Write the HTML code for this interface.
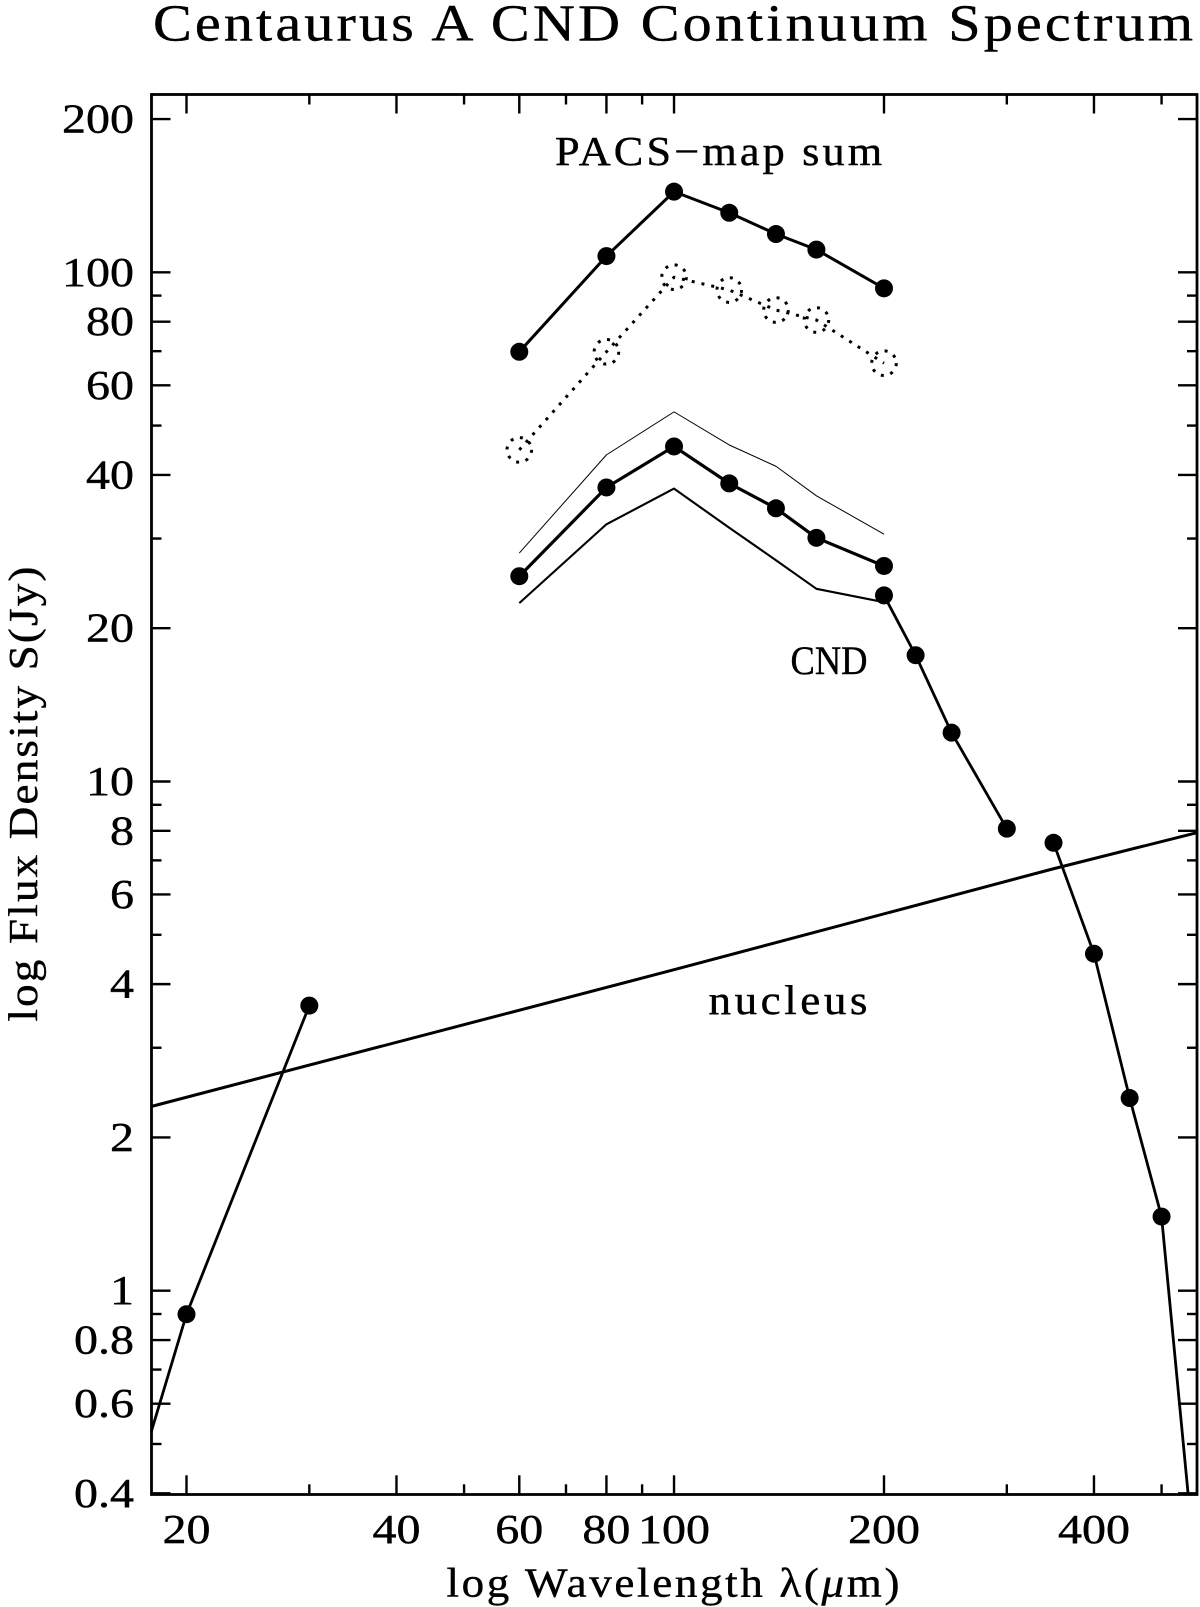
<!DOCTYPE html>
<html lang="en">
<head>
<meta charset="utf-8">
<title>Centaurus A CND Continuum Spectrum</title>
<style>
html,body{margin:0;padding:0;background:#fff;}
svg{display:block;}
text{font-family:"Liberation Serif","DejaVu Serif",serif;fill:#000;stroke:#000;stroke-width:.4px;}
</style>
</head>
<body>
<svg id="chart" xmlns="http://www.w3.org/2000/svg" width="1200" height="1607" viewBox="0 0 1200 1607">
  <rect x="0" y="0" width="1200" height="1607" fill="#fff"/>
  <text transform="translate(153,40.5) scale(1.12,1)" x="0" y="0" font-size="52" textLength="928.6" lengthAdjust="spacing">Centaurus A CND Continuum Spectrum</text>
  <text transform="translate(555,165) scale(1.08,1)" x="0" y="0" font-size="41" textLength="303" lengthAdjust="spacing">PACS−map sum</text>
  <text x="790.5" y="674" font-size="40" textLength="77" lengthAdjust="spacingAndGlyphs">CND</text>
  <text transform="translate(708.5,1014) scale(1.1,1)" x="0" y="0" font-size="41" textLength="144.5" lengthAdjust="spacing">nucleus</text>
  <text transform="translate(446.5,1596.5) scale(1.1,1)" x="0" y="0" font-size="41" textLength="411.8" lengthAdjust="spacing">log Wavelength λ(<tspan font-style="italic">μ</tspan>m)</text>
  <text transform="translate(37,1021.5) rotate(-90) scale(1.1,1)" x="0" y="0" font-size="41" textLength="413.6" lengthAdjust="spacing">log Flux Density S(Jy)</text>
  <g id="ticks"></g>
  <g id="labels"></g>
  <g id="series"></g>
  <rect x="151.5" y="94.5" width="1045.5" height="1400" fill="none" stroke="#000" stroke-width="2.8"/>
</svg>
<script>
const xMajorTicks = [20, 40, 60, 80, 100, 200, 400];
const xMinorTicks = [30, 50, 70, 90, 300, 500];
const yMajorTicks = [0.4, 0.6, 0.8, 1, 2, 4, 6, 8, 10, 20, 40, 60, 80, 100, 200];
const yMinorTicks = [0.5, 0.7, 0.9, 3, 5, 7, 9, 30, 50, 70, 90];
const xTickLabels = ["20", "40", "60", "80", "100", "200", "400"];
const yTickLabels = ["0.4", "0.6", "0.8", "1", "2", "4", "6", "8", "10", "20", "40", "60", "80", "100", "200"];

const pacsWave = [60, 80, 100, 120, 140, 160, 200];
const pacsSum = [69.8, 107.6, 144, 130.9, 118.9, 110.8, 93];
const pacsDotted = [44.8, 69.8, 97.8, 92.3, 84.3, 80.6, 66.3];
const cndMid = [25.3, 37.8, 45.5, 38.5, 34.4, 30.1, 26.5];
const cndUpper = [28.1, 43.8, 53.2, 45.8, 41.6, 36.4, 30.6];
const cndLower = [22.4, 32.0, 37.6, 31.5, 27.2, 23.9, 22.5];

const farIrWave = [17.8, 20, 30];
const farIrFlux = [0.528, 0.899, 3.63];
const subA_Wave = [200, 222, 250, 300];
const subA_Flux = [23.2, 17.7, 12.47, 8.08];
const subB_Wave = [350, 400, 450, 500, 545.7];
const subB_Flux = [7.58, 4.59, 2.39, 1.398, 0.4];
const nucleusWave = [17.8, 100, 350, 561];
const nucleusFlux = [2.30, 4.27, 6.74, 7.93];

const NS = "http://www.w3.org/2000/svg";
const xScale = function (w) { return 186.5 + 697.5 * Math.log10(w / 20); };
const yScale = function (s) { return 272.3 + 509.2 * (2 - Math.log10(s)); };
const LEFT = 151.5, RIGHT = 1197, TOP = 94.5, BOTTOM = 1494.3;
const ticksG = document.getElementById("ticks");
const labelsG = document.getElementById("labels");
const seriesG = document.getElementById("series");

function seg(parent, x1, y1, x2, y2, name) {
  const el = document.createElementNS(NS, "line");
  el.setAttribute("x1", x1);
  el.setAttribute("y1", y1);
  el.setAttribute("x2", x2);
  el.setAttribute("y2", y2);
  el.setAttribute("stroke", "#000");
  el.setAttribute("stroke-width", "2.4");
  
  
  parent.appendChild(el);
}
function xTicks(list, len, name) {
  list.forEach(function (w) {
    const x = xScale(w);
    seg(ticksG, x, BOTTOM, x, BOTTOM - len, name + "-bottom");
    seg(ticksG, x, TOP, x, TOP + len, name + "-top");
  });
}
function yTicks(list, len, name) {
  list.forEach(function (s) {
    const y = yScale(s);
    seg(ticksG, LEFT, y, LEFT + len, y, name + "-left");
    seg(ticksG, RIGHT, y, RIGHT - len, y, name + "-right");
  });
}
xTicks(xMajorTicks, 19, "x-major-tick");
xTicks(xMinorTicks, 10, "x-minor-tick");
yTicks(yMajorTicks, 19, "y-major-tick");
yTicks(yMinorTicks, 10, "y-minor-tick");

function labelWidth(t) {
  let w = 0;
  for (const c of t) { w += (c === ".") ? 12 : 24; }
  return w;
}
function label(t, x, y, anchor, name) {
  const el = document.createElementNS(NS, "text");
  el.textContent = t;
  el.setAttribute("x", x);
  el.setAttribute("y", y);
  el.setAttribute("font-size", "41");
  el.setAttribute("text-anchor", anchor);
  el.setAttribute("textLength", labelWidth(t));
  el.setAttribute("lengthAdjust", "spacingAndGlyphs");
  
  
  labelsG.appendChild(el);
}
xMajorTicks.forEach(function (w, i) {
  label(xTickLabels[i], xScale(w), 1543, "middle", "x-tick-label");
});
yMajorTicks.forEach(function (s, i) {
  label(yTickLabels[i], 134, yScale(s) + 13.5, "end", "y-tick-label");
});

function path(wave, flux, width, dash, name) {
  const el = document.createElementNS(NS, "polyline");
  el.setAttribute("points", wave.map(function (w, i) {
    return xScale(w).toFixed(2) + "," + yScale(flux[i]).toFixed(2);
  }).join(" "));
  el.setAttribute("fill", "none");
  el.setAttribute("stroke", "#000");
  el.setAttribute("stroke-width", width);
  el.setAttribute("stroke-linejoin", "round");
  if (dash) { el.setAttribute("stroke-dasharray", dash); }
  
  
  seriesG.appendChild(el);
}
function dots(wave, flux, name) {
  wave.forEach(function (w, i) {
    if (w < 20 || w > 500) { return; }
    const c = document.createElementNS(NS, "circle");
    c.setAttribute("cx", xScale(w));
    c.setAttribute("cy", yScale(flux[i]));
    c.setAttribute("r", "9");
    c.setAttribute("fill", "#000");
    
    
    seriesG.appendChild(c);
  });
}
function rings(wave, flux, name) {
  wave.forEach(function (w, i) {
    const c = document.createElementNS(NS, "circle");
    c.setAttribute("cx", xScale(w));
    c.setAttribute("cy", yScale(flux[i]));
    c.setAttribute("r", "12.3");
    c.setAttribute("fill", "none");
    c.setAttribute("stroke", "#000");
    c.setAttribute("stroke-width", "3");
    c.setAttribute("stroke-dasharray", "3 6.7");
    
    
    seriesG.appendChild(c);
  });
}

path(nucleusWave, nucleusFlux, 3, null, "nucleus-line");
path(farIrWave, farIrFlux, 2.8, null, "far-ir-line");
dots(farIrWave, farIrFlux, "far-ir-point");
path(subA_Wave, subA_Flux, 2.8, null, "submm-line-a");
dots(subA_Wave, subA_Flux, "submm-point-a");
path(subB_Wave, subB_Flux, 2.8, null, "submm-line-b");
dots(subB_Wave, subB_Flux, "submm-point-b");

path(pacsWave, pacsSum, 3, null, "pacs-sum-line");
dots(pacsWave, pacsSum, "pacs-sum-point");
path(pacsWave, pacsDotted, 3, "3 7", "pacs-dotted-line");
rings(pacsWave, pacsDotted, "pacs-dotted-point");
path(pacsWave, cndUpper, 1, null, "cnd-upper-bound-line");
path(pacsWave, cndLower, 2.1, null, "cnd-lower-bound-line");
path(pacsWave, cndMid, 3.2, null, "cnd-line");
dots(pacsWave, cndMid, "cnd-point");
</script>
</body>
</html>
